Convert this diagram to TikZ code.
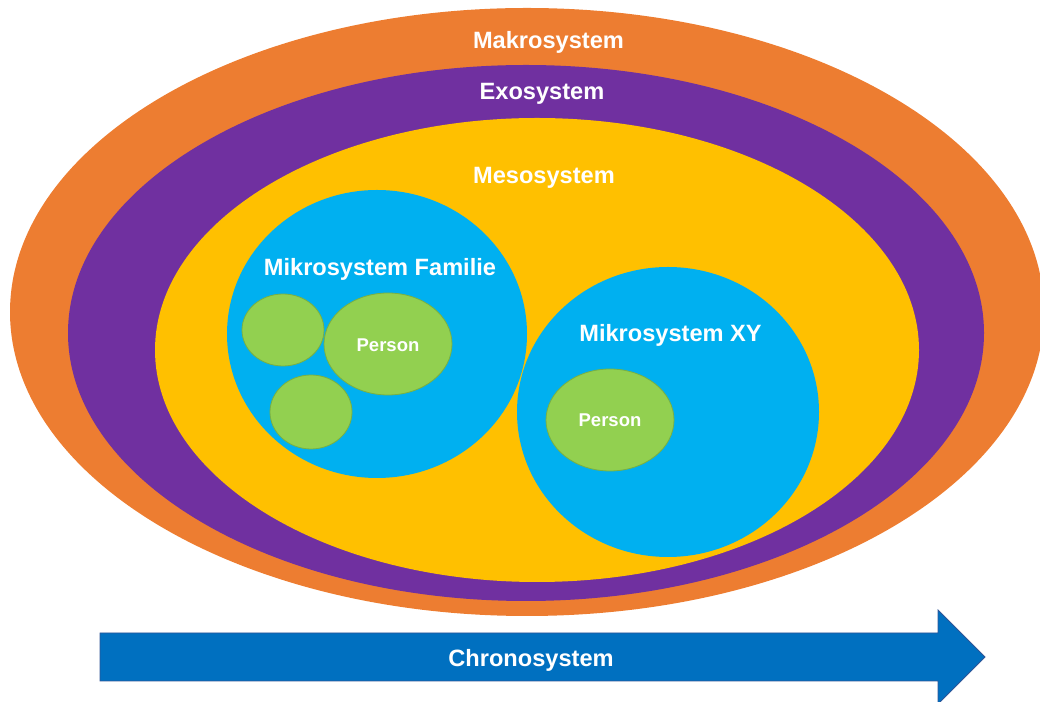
\documentclass[tikz,border=0pt]{standalone}
\usepackage{fontspec}
\setmainfont{Liberation Sans}
\begin{document}
\definecolor{makro}{HTML}{ED7D31}
\definecolor{exo}{HTML}{7030A0}
\definecolor{meso}{HTML}{FFC000}
\definecolor{mikro}{HTML}{00B0F0}
\definecolor{person}{HTML}{92D050}
\definecolor{personline}{HTML}{78B043}
\definecolor{chrono}{HTML}{0070C0}
\definecolor{chronoline}{HTML}{2F5597}
\begin{tikzpicture}[x=1bp,y=1bp,
  biglabel/.style={text=white,anchor=base,inner sep=0pt,
    font=\fontsize{23.6bp}{28bp}\selectfont\bfseries},
  smalllabel/.style={text=white,anchor=base,inner sep=0pt,
    font=\fontsize{18.5bp}{22bp}\selectfont\bfseries},
  personfill/.style={fill=person,draw=personline,line width=0.8bp}]
\useasboundingbox (0,0) rectangle (1040,702);
\clip (0,0) rectangle (1040,702);
% nested system ellipses (y measured upwards)
\fill[makro] (527,390) ellipse [x radius=517, y radius=304];
\fill[exo]   (526,369) ellipse [x radius=458, y radius=268];
\fill[meso]  (537,352) ellipse [x radius=382, y radius=232];
% micro systems
\fill[mikro] (377,368) ellipse [x radius=150, y radius=144];
\fill[mikro] (668,290) ellipse [x radius=151, y radius=145];
% persons and family members
\filldraw[personfill] (283,372) ellipse [x radius=41, y radius=36];
\filldraw[personfill] (388,358) ellipse [x radius=64, y radius=51];
\filldraw[personfill] (311,290) ellipse [x radius=41, y radius=37];
\filldraw[personfill] (610,282) ellipse [x radius=64, y radius=51];
% time arrow
\filldraw[fill=chrono,draw=chronoline,line width=0.8bp]
  (100,69) -- (938,69) -- (938,92) -- (985,45) -- (938,-2) -- (938,21) -- (100,21) -- cycle;
% labels
\node[biglabel] (makrolabel) at (548.5,653.5) {Makrosystem};
\node[biglabel] (exolabel) at (542,602) {Exosystem};
\node[biglabel] (mesolabel) at (544,518.5) {Mesosystem};
\node[biglabel] (famlabel) at (380,426.5) {Mikrosystem Familie};
\node[biglabel] (xylabel) at (670.5,360) {Mikrosystem XY};
\node[smalllabel] (personfam) at (388,350) {Person};
\node[smalllabel] (personxy) at (610,275) {Person};
\node[biglabel] (chronolabel) at (531,35) {Chronosystem};
\end{tikzpicture}
\end{document}
